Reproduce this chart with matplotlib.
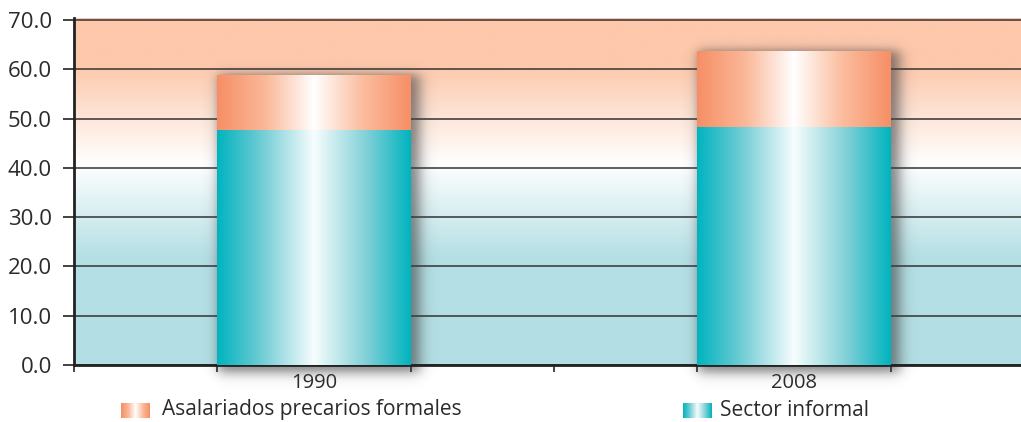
import numpy as np
import matplotlib
matplotlib.use("Agg")
import matplotlib.pyplot as plt
from matplotlib.colors import LinearSegmentedColormap

years = ["1990", "2008"]
sector_informal = [47.7, 48.2]
precarios_formales = [11.1, 15.4]
yticks = [0, 10, 20, 30, 40, 50, 60, 70]
labels = ["Asalariados precarios formales", "Sector informal"]

plt.rcParams['font.family'] = ['Open Sans', 'DejaVu Sans']
txt = '#2b2b2b'

W, H = 1021, 422
fig = plt.figure(figsize=(W / 100, H / 100), dpi=100)
ax = fig.add_axes([74 / W, 57 / H, 960 / W, 347 / H])
ymax = 70.4

# background vertical gradient
bg = LinearSegmentedColormap.from_list('bg', [
    (0, '#b3dfe4'), (22 / ymax, '#b5e0e5'), (41 / ymax, '#ffffff'),
    (61 / ymax, '#fdc8ab'), (1, '#fdc8ab')])
ax.imshow(np.linspace(0, 1, 256).reshape(-1, 1), cmap=bg, origin='lower',
          extent=[-0.5, 1.5, 0, ymax], aspect='auto', zorder=0)

orange = LinearSegmentedColormap.from_list('o', [
    (0, '#f68f66'), (0.25, '#fbb898'), (0.5, '#ffffff'), (0.75, '#fbbd9e'), (1, '#f68f66')])
teal = LinearSegmentedColormap.from_list('t', [
    (0, '#00b4bf'), (0.22, '#6ccbd4'), (0.5, '#f7fdfd'), (0.78, '#7dcfd7'), (1, '#00b4bf')])

x = np.arange(len(years))
w = 0.404
b1 = ax.bar(x, sector_informal, w, color='none', zorder=3)
b2 = ax.bar(x, precarios_formales, w, bottom=sector_informal, color='none', zorder=3)

px_x = 2.0 / 960
px_y = ymax / 347


def shadow(x0, x1, y0, y1):
    xs = np.linspace(x0 - 30 * px_x, x1 + 45 * px_x, 300)
    ys = np.linspace(y0 - 30 * px_y, y1 + 25 * px_y, 300)
    sx = 0.5 * (np.tanh((xs - (x0 + 1 * px_x)) / (7 * px_x)) - np.tanh((xs - (x1 + 9 * px_x)) / (8 * px_x)))
    sy = 0.5 * (np.tanh((ys - (y0 - 8 * px_y)) / (7 * px_y)) - np.tanh((ys - (y1 + 1 * px_y)) / (6 * px_y)))
    rgba = np.zeros((300, 300, 4))
    rgba[..., :3] = 0.25
    rgba[..., 3] = np.outer(sy, sx) * 0.65
    ax.imshow(rgba, origin='lower', extent=[xs[0], xs[-1], ys[0], ys[-1]],
              aspect='auto', zorder=2, clip_on=False)


for r_low, r_top in zip(b1, b2):
    shadow(r_low.get_x(), r_low.get_x() + r_low.get_width(),
           0, r_top.get_y() + r_top.get_height())

for bars, cmap in ((b1, teal), (b2, orange)):
    for r in bars:
        x0, y0 = r.get_x(), r.get_y()
        ax.imshow(np.linspace(0, 1, 256).reshape(1, -1), cmap=cmap,
                  extent=[x0, x0 + r.get_width(), y0, y0 + r.get_height()],
                  aspect='auto', zorder=3)

ax.set_xlim(-0.5, 1.5)
ax.set_ylim(0, ymax)

ax.set_yticks(yticks)
ax.set_yticklabels([f"{v:.1f}" for v in yticks])
ax.set_axisbelow(True)
ax.yaxis.grid(True, color='#333333', lw=1.1)
ax.tick_params(axis='y', direction='out', length=8, width=1.2, color='#222222',
               labelsize=16, labelcolor=txt, pad=8)

edges = sorted(list(x - w / 2) + list(x + w / 2) + [-0.5, 0.5])
ax.set_xticks(edges)
ax.set_xticklabels([])
ax.set_xticks(x, minor=True)
ax.set_xticklabels(years, minor=True)
ax.tick_params(axis='x', which='major', direction='out', length=5, width=1.2, color='#222222')
ax.tick_params(axis='x', which='minor', length=0, labelsize=14.5, labelcolor=txt, pad=6)

for s in ('top', 'right'):
    ax.spines[s].set_visible(False)
for s in ('left', 'bottom'):
    ax.spines[s].set_linewidth(2)
    ax.spines[s].set_color('#222222')

# legend
for (lx, tx), cmap, lab in zip(((121, 162), (683, 720)), (orange, teal), labels):
    lax = fig.add_axes([lx / W, (H - 418) / H, 29 / W, 15 / H])
    lax.imshow(np.linspace(0, 1, 64).reshape(1, -1), cmap=cmap, aspect='auto')
    lax.axis('off')
    fig.text(tx / W, (H - 410) / H, lab, fontsize=15, color=txt, va='center')

fig.savefig("out.png", dpi=100)
